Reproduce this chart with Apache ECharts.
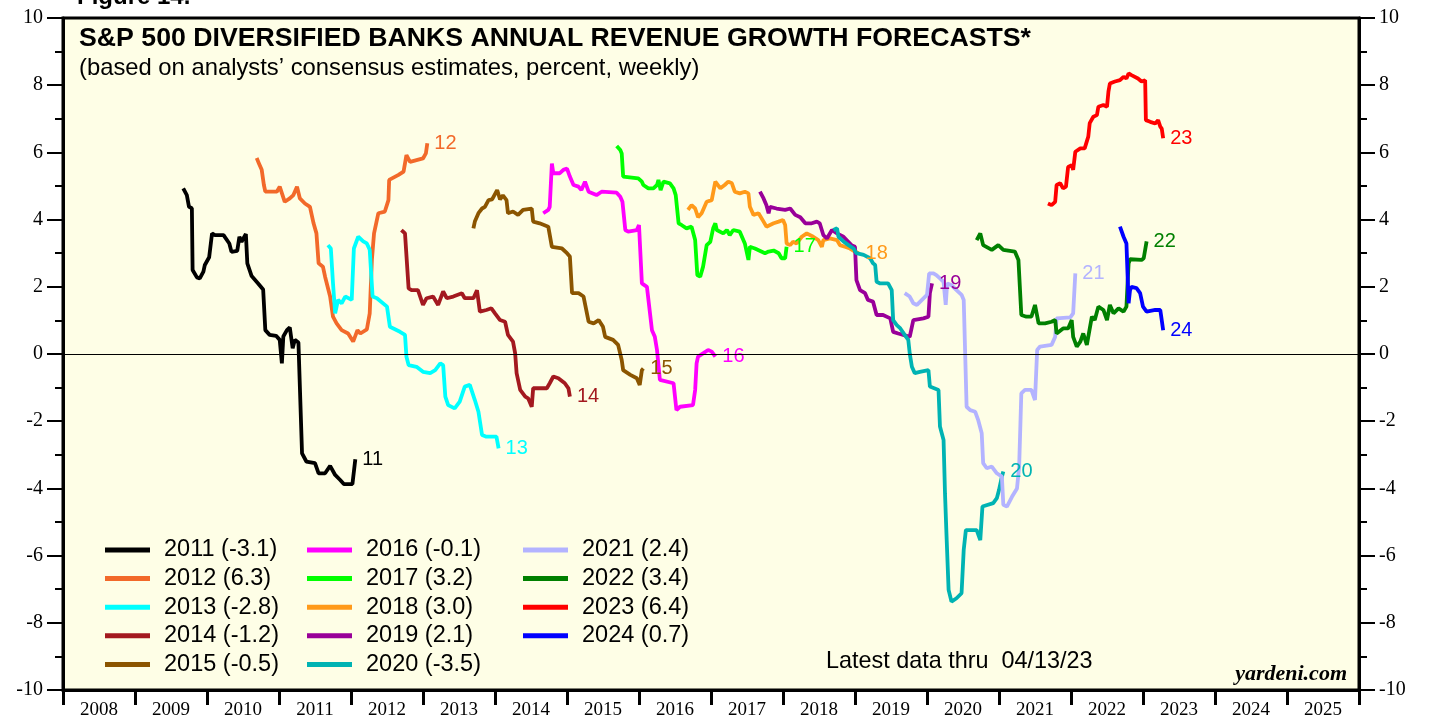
<!DOCTYPE html>
<html>
<head>
<meta charset="utf-8">
<script src="https://cdn.jsdelivr.net/npm/echarts@6/dist/echarts.min.js"></script>
<style>
  html, body { margin: 0; padding: 0; background: #fff; }
  #chart { width: 1429px; height: 721px; }
</style>
</head>
<body>
<div id="chart"></div>
<script>
// x axis year labels (each label sits in the middle of its year)
const yearLabels = ['2008', '2009', '2010', '2011', '2012', '2013', '2014', '2015', '2016',
  '2017', '2018', '2019', '2020', '2021', '2022', '2023', '2024', '2025']

// forecast years, latest values shown in the legend, tags at the line ends
const seriesNames = ['2011', '2012', '2013', '2014', '2015', '2016', '2017',
  '2018', '2019', '2020', '2021', '2022', '2023', '2024']
const finalValues = ['-3.1', '6.3', '-2.8', '-1.2', '-0.5', '-0.1', '3.2',
  '3.0', '2.1', '-3.5', '2.4', '3.4', '6.4', '0.7']
const endTags = ['11', '12', '13', '14', '15', '16', '17', '18', '19', '20', '21', '22', '23', '24']

// weekly consensus forecasts: [date as decimal year, percent]
const s2011 = [[2009.67, 4.93], [2009.72, 4.73], [2009.75, 4.38], [2009.79, 4.34], [2009.80, 2.50],
  [2009.86, 2.28], [2009.90, 2.25], [2009.95, 2.45], [2009.97, 2.65], [2010.03, 2.88], [2010.07, 3.59],
  [2010.11, 3.54], [2010.23, 3.54], [2010.31, 3.29], [2010.34, 3.04], [2010.42, 3.07], [2010.45, 3.49],
  [2010.48, 3.34], [2010.54, 3.57], [2010.56, 2.70], [2010.62, 2.32], [2010.71, 2.10], [2010.78, 1.92],
  [2010.81, 0.71], [2010.87, 0.57], [2010.96, 0.54], [2011.01, 0.42], [2011.04, -0.28], [2011.06, 0.52],
  [2011.11, 0.71], [2011.15, 0.79], [2011.19, 0.17], [2011.22, 0.42], [2011.27, 0.34], [2011.32, -2.96],
  [2011.38, -3.20], [2011.50, -3.25], [2011.55, -3.55], [2011.64, -3.55], [2011.71, -3.33], [2011.78, -3.60],
  [2011.85, -3.75], [2011.90, -3.87], [2012.02, -3.87], [2012.06, -3.13]]
const s2012 = [[2010.69, 5.83], [2010.72, 5.68], [2010.76, 5.48], [2010.79, 5.03], [2010.81, 4.83],
  [2010.97, 4.83], [2011.01, 4.98], [2011.08, 4.53], [2011.15, 4.63], [2011.20, 4.73], [2011.25, 4.98],
  [2011.29, 4.63], [2011.36, 4.48], [2011.43, 4.38], [2011.48, 3.89], [2011.52, 3.59], [2011.55, 2.70],
  [2011.61, 2.60], [2011.64, 2.30], [2011.71, 1.71], [2011.75, 1.11], [2011.80, 0.91], [2011.87, 0.71],
  [2011.96, 0.61], [2012.03, 0.37], [2012.09, 0.71], [2012.13, 0.61], [2012.22, 0.73], [2012.26, 1.21],
  [2012.29, 2.80], [2012.32, 3.59], [2012.38, 4.19], [2012.47, 4.24], [2012.52, 4.58], [2012.53, 5.18],
  [2012.66, 5.33], [2012.73, 5.43], [2012.77, 5.92], [2012.82, 5.72], [2012.91, 5.77], [2013.00, 5.82],
  [2013.04, 5.97], [2013.06, 6.27]]
const s2013 = [[2011.68, 3.24], [2011.72, 3.14], [2011.75, 2.10], [2011.78, 1.21], [2011.82, 1.61],
  [2011.87, 1.51], [2011.92, 1.71], [2012.01, 1.61], [2012.04, 3.14], [2012.10, 3.49], [2012.17, 3.35],
  [2012.22, 3.29], [2012.26, 3.10], [2012.30, 1.71], [2012.36, 1.66], [2012.50, 1.41], [2012.54, 0.81],
  [2012.68, 0.66], [2012.75, 0.57], [2012.77, -0.08], [2012.80, -0.33], [2012.91, -0.38], [2013.00, -0.53],
  [2013.10, -0.57], [2013.17, -0.48], [2013.24, -0.28], [2013.28, -0.33], [2013.31, -1.27], [2013.35, -1.52],
  [2013.44, -1.62], [2013.51, -1.42], [2013.58, -0.97], [2013.65, -0.92], [2013.72, -1.37], [2013.77, -1.72],
  [2013.82, -2.41], [2013.88, -2.46], [2014.02, -2.46], [2014.05, -2.81]]
const s2014 = [[2012.70, 3.69], [2012.75, 3.59], [2012.80, 1.95], [2012.84, 1.90], [2012.93, 1.90],
  [2013.00, 1.46], [2013.05, 1.66], [2013.14, 1.71], [2013.21, 1.46], [2013.28, 1.86], [2013.33, 1.66],
  [2013.42, 1.71], [2013.54, 1.81], [2013.58, 1.66], [2013.70, 1.66], [2013.75, 1.90], [2013.79, 1.26],
  [2013.88, 1.31], [2013.95, 1.36], [2014.00, 1.21], [2014.07, 1.01], [2014.14, 0.96], [2014.18, 0.57],
  [2014.25, 0.37], [2014.28, 0.02], [2014.30, -0.57], [2014.35, -1.07], [2014.42, -1.27], [2014.46, -1.32],
  [2014.51, -1.57], [2014.53, -1.02], [2014.72, -1.02], [2014.76, -0.87], [2014.81, -0.67], [2014.88, -0.72],
  [2014.97, -0.87], [2015.02, -1.02], [2015.04, -1.27]]
const s2015 = [[2013.70, 3.74], [2013.72, 3.94], [2013.77, 4.19], [2013.82, 4.33], [2013.86, 4.38],
  [2013.91, 4.58], [2013.96, 4.60], [2014.03, 4.88], [2014.07, 4.60], [2014.11, 4.72], [2014.16, 4.58],
  [2014.18, 4.19], [2014.25, 4.24], [2014.32, 4.14], [2014.39, 4.29], [2014.51, 4.33], [2014.53, 3.94],
  [2014.62, 3.89], [2014.74, 3.79], [2014.79, 3.19], [2014.93, 3.14], [2015.00, 3.00], [2015.04, 2.90],
  [2015.07, 1.81], [2015.16, 1.81], [2015.23, 1.71], [2015.30, 0.96], [2015.37, 0.91], [2015.44, 1.01],
  [2015.50, 0.81], [2015.53, 0.51], [2015.64, 0.42], [2015.71, 0.27], [2015.76, -0.18], [2015.78, -0.48],
  [2015.88, -0.62], [2015.97, -0.72], [2016.01, -0.92], [2016.04, -0.48], [2016.06, -0.43]]
const s2016 = [[2014.67, 4.19], [2014.74, 4.29], [2014.76, 4.38], [2014.79, 5.67], [2014.81, 5.38],
  [2014.90, 5.38], [2014.95, 5.48], [2015.00, 5.52], [2015.04, 5.28], [2015.09, 5.03], [2015.16, 4.98],
  [2015.20, 4.88], [2015.25, 5.13], [2015.30, 4.83], [2015.41, 4.73], [2015.48, 4.83], [2015.69, 4.80],
  [2015.74, 4.68], [2015.77, 4.53], [2015.81, 3.69], [2015.85, 3.64], [2015.97, 3.69], [2016.00, 3.84],
  [2016.04, 2.10], [2016.11, 2.00], [2016.18, 0.71], [2016.22, 0.51], [2016.25, 0.12], [2016.29, -0.77],
  [2016.48, -0.87], [2016.52, -1.67], [2016.57, -1.57], [2016.75, -1.52], [2016.78, -1.07], [2016.80, -0.28],
  [2016.82, -0.08], [2016.89, 0.02], [2016.96, 0.12], [2017.01, 0.07], [2017.06, -0.08]]
const s2017 = [[2015.69, 6.19], [2015.74, 6.07], [2015.76, 5.97], [2015.78, 5.28], [2015.99, 5.23],
  [2016.04, 5.13], [2016.06, 5.03], [2016.13, 4.93], [2016.20, 4.93], [2016.25, 5.03], [2016.27, 5.18],
  [2016.30, 4.88], [2016.34, 5.13], [2016.43, 5.08], [2016.48, 4.93], [2016.51, 4.73], [2016.55, 3.89],
  [2016.59, 3.84], [2016.66, 3.74], [2016.73, 3.79], [2016.78, 3.39], [2016.81, 2.35], [2016.85, 2.30],
  [2016.89, 2.60], [2016.94, 3.24], [2016.99, 3.34], [2017.03, 3.74], [2017.06, 3.89], [2017.08, 3.69],
  [2017.17, 3.59], [2017.22, 3.69], [2017.26, 3.54], [2017.31, 3.69], [2017.40, 3.64], [2017.47, 3.29],
  [2017.52, 2.80], [2017.54, 3.19], [2017.61, 3.14], [2017.75, 3.00], [2017.80, 3.05], [2017.87, 3.08],
  [2017.94, 3.00], [2017.98, 2.85], [2018.03, 2.85], [2018.05, 3.19]]
const s2018 = [[2016.68, 4.29], [2016.73, 4.43], [2016.78, 4.33], [2016.82, 4.07], [2016.87, 4.19],
  [2016.94, 4.53], [2017.01, 4.58], [2017.06, 5.13], [2017.13, 4.93], [2017.19, 5.03], [2017.24, 5.13],
  [2017.29, 5.08], [2017.33, 4.83], [2017.40, 4.78], [2017.47, 4.83], [2017.52, 4.78], [2017.54, 4.38],
  [2017.59, 4.14], [2017.66, 4.19], [2017.73, 3.94], [2017.77, 3.79], [2017.87, 3.89], [2017.94, 3.94],
  [2018.00, 3.99], [2018.03, 3.84], [2018.05, 3.29], [2018.10, 3.24], [2018.14, 3.34], [2018.19, 3.29],
  [2018.26, 3.49], [2018.33, 3.59], [2018.42, 3.49], [2018.49, 3.39], [2018.54, 3.19], [2018.56, 3.39],
  [2018.65, 3.44], [2018.75, 3.39], [2018.79, 3.24], [2018.86, 3.19], [2018.93, 3.14], [2019.00, 3.05],
  [2019.05, 3.00]]
const s2019 = [[2017.68, 4.83], [2017.73, 4.63], [2017.77, 4.43], [2017.80, 4.19], [2017.82, 4.38],
  [2017.91, 4.33], [2018.03, 4.29], [2018.10, 4.33], [2018.17, 4.14], [2018.24, 4.07], [2018.31, 3.89],
  [2018.40, 3.89], [2018.47, 3.94], [2018.51, 3.89], [2018.56, 3.54], [2018.61, 3.44], [2018.68, 3.69],
  [2018.75, 3.59], [2018.84, 3.49], [2018.95, 3.24], [2019.00, 3.19], [2019.02, 2.20], [2019.07, 1.90],
  [2019.14, 1.81], [2019.18, 1.61], [2019.25, 1.56], [2019.30, 1.16], [2019.39, 1.16], [2019.49, 1.06],
  [2019.53, 0.66], [2019.60, 0.61], [2019.67, 0.57], [2019.76, 0.51], [2019.81, 1.01], [2019.95, 1.06],
  [2020.02, 1.11], [2020.04, 1.81], [2020.07, 2.10]]
const s2020 = [[2018.70, 3.69], [2018.75, 3.74], [2018.77, 3.49], [2018.84, 3.35], [2018.91, 3.24],
  [2018.98, 3.14], [2019.02, 3.00], [2019.12, 2.95], [2019.21, 2.85], [2019.25, 2.70], [2019.28, 2.65],
  [2019.30, 2.15], [2019.35, 2.10], [2019.46, 2.10], [2019.51, 1.90], [2019.53, 1.01], [2019.58, 0.86],
  [2019.63, 0.76], [2019.69, 0.57], [2019.74, 0.42], [2019.76, 0.02], [2019.79, -0.38], [2019.83, -0.57],
  [2019.90, -0.53], [2020.02, -0.48], [2020.04, -0.97], [2020.16, -1.07], [2020.18, -2.16], [2020.23, -2.56],
  [2020.25, -4.15], [2020.27, -5.34], [2020.30, -7.02], [2020.34, -7.37], [2020.41, -7.27], [2020.48, -7.12],
  [2020.51, -5.83], [2020.54, -5.24], [2020.69, -5.24], [2020.74, -5.54], [2020.77, -4.54], [2020.92, -4.44],
  [2020.97, -4.29], [2021.00, -4.05], [2021.04, -3.65], [2021.06, -3.50]]
const s2021 = [[2019.69, 1.81], [2019.76, 1.71], [2019.81, 1.51], [2019.86, 1.46], [2019.93, 1.61],
  [2020.00, 1.76], [2020.03, 2.40], [2020.09, 2.40], [2020.13, 2.35], [2020.18, 2.25], [2020.23, 2.15],
  [2020.26, 1.46], [2020.28, 2.10], [2020.34, 2.05], [2020.41, 1.90], [2020.48, 1.76], [2020.51, 1.61],
  [2020.53, 0.02], [2020.55, -1.57], [2020.60, -1.67], [2020.67, -1.72], [2020.71, -1.96], [2020.76, -2.36],
  [2020.78, -3.25], [2020.83, -3.40], [2020.90, -3.35], [2020.97, -3.55], [2021.04, -3.65], [2021.06, -4.49],
  [2021.11, -4.54], [2021.18, -4.25], [2021.25, -4.00], [2021.28, -3.35], [2021.31, -1.17], [2021.36, -1.07],
  [2021.45, -1.07], [2021.50, -1.37], [2021.53, 0.12], [2021.57, 0.22], [2021.73, 0.27], [2021.78, 0.51],
  [2021.80, 1.06], [2021.99, 1.09], [2022.01, 1.11], [2022.03, 1.21], [2022.06, 2.40]]
const s2022 = [[2020.69, 3.39], [2020.74, 3.59], [2020.78, 3.24], [2020.90, 3.10], [2020.99, 3.24],
  [2021.06, 3.10], [2021.22, 3.05], [2021.27, 2.80], [2021.31, 1.16], [2021.38, 1.11], [2021.45, 1.11],
  [2021.50, 1.46], [2021.55, 0.91], [2021.64, 0.91], [2021.73, 0.96], [2021.78, 1.01], [2021.80, 0.61],
  [2021.89, 0.76], [2021.96, 0.76], [2022.01, 1.01], [2022.03, 0.51], [2022.08, 0.22], [2022.13, 0.37],
  [2022.17, 0.61], [2022.22, 0.27], [2022.29, 1.11], [2022.33, 1.01], [2022.38, 1.41], [2022.45, 1.31],
  [2022.50, 1.01], [2022.54, 1.46], [2022.59, 1.21], [2022.66, 1.36], [2022.73, 1.26], [2022.77, 1.41],
  [2022.80, 2.70], [2022.82, 2.82], [2022.98, 2.80], [2023.01, 2.85], [2023.05, 3.35]]
const s2023 = [[2021.68, 4.48], [2021.73, 4.43], [2021.78, 4.53], [2021.80, 5.03], [2021.85, 5.08],
  [2021.89, 4.93], [2021.93, 4.98], [2021.96, 5.57], [2022.01, 5.62], [2022.03, 5.48], [2022.06, 6.02],
  [2022.13, 6.12], [2022.19, 6.12], [2022.24, 6.47], [2022.26, 6.87], [2022.31, 7.06], [2022.36, 7.11],
  [2022.38, 7.36], [2022.45, 7.41], [2022.50, 7.36], [2022.52, 7.81], [2022.54, 8.05], [2022.61, 8.11],
  [2022.68, 8.15], [2022.73, 8.25], [2022.77, 8.20], [2022.80, 8.35], [2022.84, 8.30], [2022.93, 8.20],
  [2022.98, 8.11], [2023.03, 8.15], [2023.04, 6.96], [2023.10, 6.91], [2023.17, 6.86], [2023.21, 6.96],
  [2023.24, 6.77], [2023.26, 6.71], [2023.28, 6.42]]
const s2024 = [[2022.68, 3.79], [2022.73, 3.49], [2022.77, 3.29], [2022.80, 1.51], [2022.82, 1.90],
  [2022.84, 2.00], [2022.91, 1.96], [2022.96, 1.81], [2023.00, 1.41], [2023.05, 1.26], [2023.17, 1.31],
  [2023.24, 1.31], [2023.26, 1.01], [2023.28, 0.71]]

const lineData = [s2011, s2012, s2013, s2014, s2015, s2016, s2017, s2018, s2019, s2020, s2021, s2022, s2023, s2024]
const colors = ['#000000', '#f2692a', '#00ffff', '#a3191f', '#8b5500', '#ff00ff', '#00ff00',
  '#ff9a1a', '#990099', '#00b3b3', '#b3b3ff', '#008000', '#ff0000', '#0000ff']

const legendNames = seriesNames.map((s, i) => s + ' (' + finalValues[i] + ')')
const legendCols = [legendNames.slice(0, 5), legendNames.slice(5, 10), legendNames.slice(10)]
const legendLefts = [105, 307, 523]

const chart = echarts.init(document.getElementById('chart'), null, { renderer: 'canvas' })

const sans = '"Liberation Sans", Arial, sans-serif'
const serif = '"Liberation Serif", "Times New Roman", serif'

const series = seriesNames.map((s, i) => ({
  name: legendNames[i],
  type: 'line',
  data: lineData[i],
  xAxisIndex: 0,
  yAxisIndex: 0,
  symbol: 'none',
  showSymbol: false,
  silent: true,
  animation: false,
  lineStyle: { color: colors[i], width: 3.8 },
  itemStyle: { color: colors[i] },
  emphasis: { disabled: true },
  endLabel: {
    show: true,
    formatter: endTags[i],
    color: colors[i],
    fontFamily: sans,
    fontSize: 20,
    distance: 7
  },
  z: 3
}))

// zero line
series[0].markLine = {
  silent: true,
  symbol: ['none', 'none'],
  label: { show: false },
  lineStyle: { color: '#000', width: 1, type: 'solid' },
  data: [{ yAxis: 0 }],
  animation: false
}

const yAxisBase = {
  type: 'value',
  min: -10,
  max: 10,
  interval: 2,
  axisLine: { show: true, onZero: false, lineStyle: { color: '#000', width: 3 } },
  axisTick: { show: true, inside: false, length: 16, lineStyle: { color: '#000', width: 2 } },
  minorTick: { show: true, splitNumber: 2, length: 8, lineStyle: { color: '#000', width: 2 } },
  splitLine: { show: false },
  axisLabel: { color: '#000', fontFamily: serif, fontSize: 20, margin: 20 }
}

const option = {
  backgroundColor: '#ffffff',
  animation: false,
  grid: {
    left: 63, right: 70, top: 18, bottom: 31,
    containLabel: false,
    outerBoundsMode: 'none',
    show: true,
    backgroundColor: '#fefee6',
    borderColor: '#000',
    borderWidth: 3
  },
  xAxis: [
    {
      type: 'value', min: 2008, max: 2026, show: false
    },
    {
      type: 'category',
      data: yearLabels,
      position: 'bottom',
      boundaryGap: true,
      axisLine: { show: true, onZero: false, lineStyle: { color: '#000', width: 3 } },
      axisTick: { show: true, inside: false, length: 15, interval: 0, lineStyle: { color: '#000', width: 3 } },
      axisLabel: { color: '#000', fontFamily: serif, fontSize: 19, margin: 11, interval: 0 },
      splitLine: { show: false }
    }
  ],
  yAxis: [
    Object.assign({}, yAxisBase, { position: 'left' }),
    Object.assign({}, yAxisBase, { position: 'right' })
  ],
  legend: legendCols.map((names, k) => ({
    data: names,
    orient: 'vertical',
    left: legendLefts[k],
    top: 538,
    padding: 0,
    itemWidth: 45,
    itemHeight: 5,
    itemGap: 4.6,
    icon: 'rect',
    selectedMode: false,
    textStyle: { color: '#000', fontFamily: sans, fontSize: 23.5, lineHeight: 22, padding: [0, 0, 0, 9] }
  })),
  graphic: [
    { type: 'text', left: 77, top: -15, style: { text: 'Figure 14.', font: 'bold 24px ' + sans, fill: '#000' } },
    { type: 'text', left: 79, top: 25, style: { text: 'S&P 500 DIVERSIFIED BANKS ANNUAL REVENUE GROWTH FORECASTS*', font: 'bold 26.7px ' + sans, fill: '#000' } },
    { type: 'text', left: 79, top: 56, style: { text: '(based on analysts’ consensus estimates, percent, weekly)', font: '23.8px ' + sans, fill: '#000' } },
    { type: 'text', left: 826, top: 650, style: { text: 'Latest data thru  04/13/23', font: '23.4px ' + sans, fill: '#000' } },
    { type: 'text', right: 82, top: 663, style: { text: 'yardeni.com', font: 'italic bold 22px ' + serif, fill: '#000' } }
  ],
  series: series
}

chart.setOption(option)
</script>
</body>
</html>
